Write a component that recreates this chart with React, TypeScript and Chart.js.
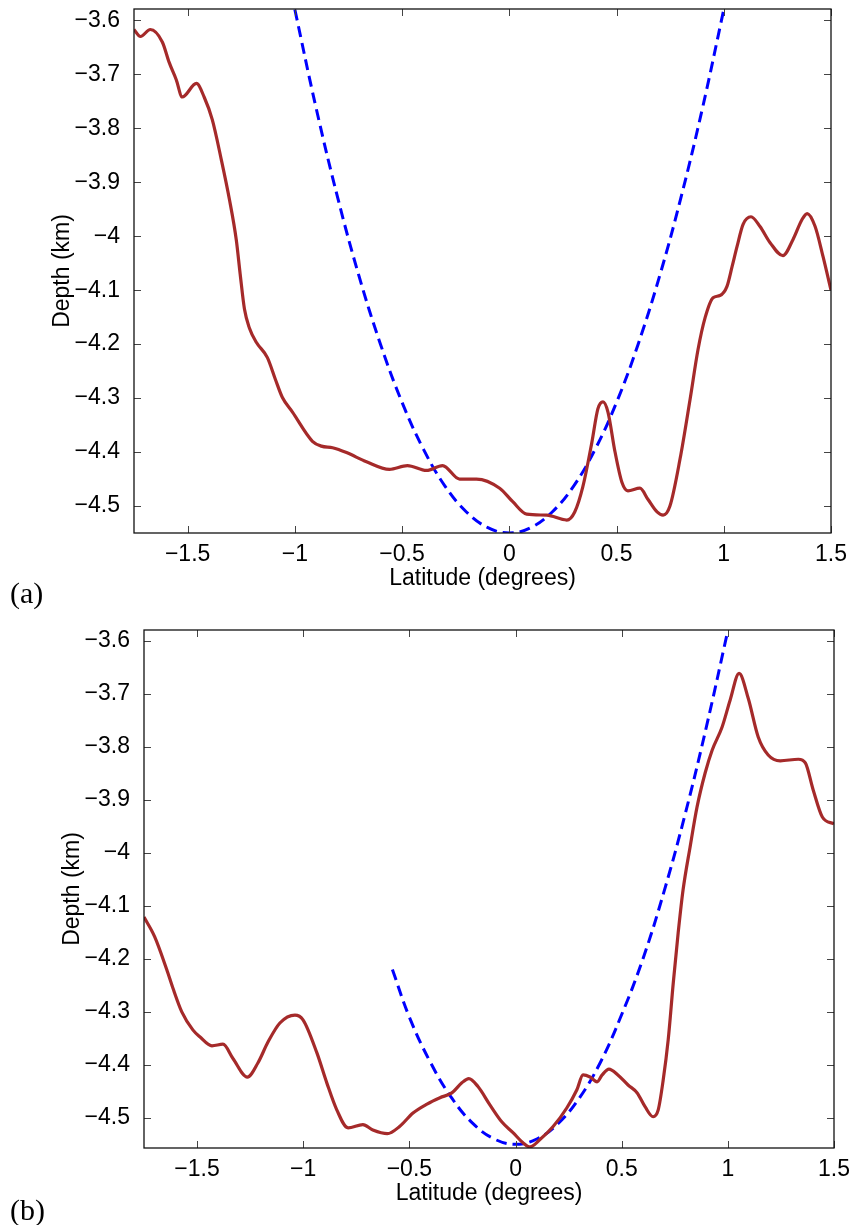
import React, { useEffect, useRef } from "react";
import { Chart, registerables } from "chart.js";

Chart.register(...registerables);

// ---------- Panel (a) ----------
const topLat = [
  -1.75, -1.72, -1.674, -1.618, -1.586, -1.553, -1.525, -1.459, -1.422, -1.385,
  -1.343, -1.305, -1.273, -1.255, -1.235, -1.212, -1.179, -1.128, -1.091, -1.058,
  -1.011, -0.918, -0.876, -0.824, -0.759, -0.666, -0.559, -0.475, -0.386, -0.311,
  -0.232, -0.153, -0.045, 0.016, 0.081, 0.175, 0.268, 0.305, 0.343, 0.385,
  0.413, 0.437, 0.46, 0.493, 0.525, 0.553, 0.609, 0.647, 0.689, 0.717,
  0.749, 0.796, 0.843, 0.88, 0.913, 0.95, 0.982, 1.015, 1.039, 1.062,
  1.09, 1.127, 1.169, 1.216, 1.276, 1.323, 1.365, 1.389, 1.426, 1.463, 1.5,
];
const topDepth = [
  -3.617, -3.63, -3.617, -3.64, -3.678, -3.71, -3.742, -3.717, -3.743, -3.784,
  -3.858, -3.932, -4.007, -4.07, -4.135, -4.17, -4.197, -4.225, -4.265, -4.299,
  -4.326, -4.38, -4.389, -4.392, -4.401, -4.418, -4.432, -4.425, -4.434, -4.425,
  -4.45, -4.45, -4.467, -4.492, -4.515, -4.517, -4.526, -4.511, -4.464, -4.382,
  -4.32, -4.307, -4.326, -4.4, -4.456, -4.472, -4.467, -4.488, -4.511, -4.517,
  -4.5, -4.413, -4.302, -4.21, -4.151, -4.114, -4.11, -4.093, -4.056, -4.019,
  -3.978, -3.964, -3.982, -4.012, -4.036, -4.006, -3.969, -3.958, -3.982, -4.038, -4.1,
];
const topFitLat = [
  -1.0, -0.9, -0.8, -0.7, -0.6, -0.5, -0.4, -0.3, -0.2, -0.1, 0,
  0.1, 0.2, 0.3, 0.4, 0.5, 0.6, 0.7, 0.8, 0.9, 1.0,
];
const topFitDepth = [
  -3.58, -3.764, -3.929, -4.075, -4.201, -4.308, -4.395, -4.463, -4.511, -4.54, -4.55,
  -4.54, -4.511, -4.463, -4.395, -4.308, -4.201, -4.075, -3.929, -3.764, -3.58,
];

// ---------- Panel (b) ----------
const botLat = [
  -1.75, -1.7, -1.643, -1.614, -1.572, -1.52, -1.487, -1.43, -1.378, -1.331,
  -1.263, -1.213, -1.166, -1.11, -1.039, -1.001, -0.936, -0.889, -0.842, -0.789,
  -0.719, -0.672, -0.604, -0.545, -0.483, -0.417, -0.356, -0.3, -0.253, -0.22,
  -0.177, -0.12, -0.064, -0.012, 0.035, 0.068, 0.115, 0.176, 0.242, 0.289,
  0.318, 0.351, 0.384, 0.408, 0.44, 0.482, 0.53, 0.573, 0.61, 0.648,
  0.672, 0.695, 0.719, 0.743, 0.766, 0.789, 0.822, 0.855, 0.893, 0.926,
  0.973, 1.011, 1.053, 1.096, 1.143, 1.19, 1.247, 1.332, 1.365, 1.402, 1.445, 1.5,
];
const botDepth = [
  -4.121, -4.158, -4.22, -4.255, -4.3, -4.334, -4.347, -4.364, -4.361, -4.388,
  -4.423, -4.396, -4.357, -4.321, -4.306, -4.315, -4.377, -4.434, -4.485, -4.519,
  -4.513, -4.523, -4.53, -4.516, -4.491, -4.474, -4.462, -4.453, -4.434, -4.426,
  -4.441, -4.476, -4.508, -4.528, -4.547, -4.555, -4.541, -4.517, -4.481, -4.447,
  -4.419, -4.423, -4.432, -4.419, -4.408, -4.419, -4.438, -4.453, -4.479, -4.498,
  -4.485, -4.43, -4.353, -4.245, -4.151, -4.07, -3.989, -3.913, -3.849, -3.806,
  -3.762, -3.711, -3.661, -3.708, -3.781, -3.815, -3.826, -3.823, -3.83, -3.881, -3.932, -3.945,
];
const botFitLat = [
  -0.58, -0.5, -0.4, -0.3, -0.2, -0.1, 0, 0.1, 0.2, 0.3, 0.4, 0.5, 0.6, 0.7, 0.8, 0.9, 1.0,
];
const botFitDepth = [
  -4.22, -4.31, -4.396, -4.463, -4.511, -4.54, -4.55, -4.54, -4.511, -4.463, -4.395,
  -4.305, -4.2, -4.072, -3.925, -3.76, -3.58,
];

const xTitle = "Latitude (degrees)";
const yTitle = "Depth (km)";
const FONT = "'Liberation Sans', Arial, Helvetica, sans-serif";
const FS = 23;

const fmt = (v: number) => {
  const r = Math.round(v * 100) / 100;
  return (r < 0 ? "\u2212" : "") + String(Math.abs(r));
};

const frameTicks = {
  id: "frameTicks",
  afterDatasetsDraw(chart: any) {
    const { ctx, chartArea: a, scales } = chart;
    const xs = scales.x;
    const ys = scales.y;
    const L = 7;
    ctx.save();
    ctx.strokeStyle = "#444";
    ctx.lineWidth = 1;
    ctx.beginPath();
    xs.ticks.forEach((t: any) => {
      const p = Math.round(xs.getPixelForValue(t.value)) + 0.5;
      ctx.moveTo(p, a.bottom);
      ctx.lineTo(p, a.bottom - L);
      ctx.moveTo(p, a.top);
      ctx.lineTo(p, a.top + L);
    });
    ys.ticks.forEach((t: any) => {
      const p = Math.round(ys.getPixelForValue(t.value)) + 0.5;
      ctx.moveTo(a.left, p);
      ctx.lineTo(a.left + L, p);
      ctx.moveTo(a.right, p);
      ctx.lineTo(a.right - L, p);
    });
    ctx.stroke();
    ctx.strokeStyle = "#111";
    ctx.lineWidth = 1.3;
    ctx.strokeRect(a.left, a.top, a.right - a.left, a.bottom - a.top);
    ctx.restore();
  },
};

type PanelProps = {
  lat: number[];
  depth: number[];
  fitLat: number[];
  fitDepth: number[];
  height: number;
  yMin: number;
  yMax: number;
  padTop: number;
  padRight: number;
  yWidth: number;
  xHeight: number;
  yTitlePad: number;
  xTitlePad: number;
};

function Panel(p: PanelProps) {
  const ref = useRef<HTMLCanvasElement>(null);
  useEffect(() => {
    if (!ref.current) return;
    const chart = new Chart(ref.current, {
      type: "line",
      data: {
        datasets: [
          {
            data: p.lat.map((x, i) => ({ x, y: p.depth[i] })),
            borderColor: "#a52a2a",
            borderWidth: 3.2,
            pointRadius: 0,
            cubicInterpolationMode: "monotone",
            fill: false,
          },
          {
            data: p.fitLat.map((x, i) => ({ x, y: p.fitDepth[i] })),
            borderColor: "#0000ff",
            borderWidth: 3,
            borderDash: [11, 6],
            pointRadius: 0,
            tension: 0.4,
            fill: false,
          },
        ],
      },
      options: {
        animation: false,
        responsive: false,
        maintainAspectRatio: false,
        events: [],
        layout: { padding: { left: 0, top: p.padTop, right: p.padRight, bottom: 0 } },
        plugins: { legend: { display: false }, tooltip: { enabled: false } },
        scales: {
          x: {
            type: "linear",
            min: -1.75,
            max: 1.5,
            grid: { display: false },
            border: { display: false },
            ticks: {
              stepSize: 0.5,
              includeBounds: false,
              autoSkip: false,
              maxRotation: 0,
              padding: 0,
              color: "#000",
              font: { family: FONT, size: FS },
              callback: (v: any) => fmt(Number(v)),
            },
            title: {
              display: true,
              text: xTitle,
              color: "#000",
              font: { family: FONT, size: FS },
              padding: { top: 0, bottom: p.xTitlePad },
            },
            afterFit: (s: any) => {
              s.height = p.xHeight;
              s.paddingLeft = 0;
              s.paddingRight = 0;
            },
          },
          y: {
            type: "linear",
            min: p.yMin,
            max: p.yMax,
            grid: { display: false },
            border: { display: false },
            ticks: {
              stepSize: 0.1,
              includeBounds: false,
              autoSkip: false,
              padding: 6,
              color: "#000",
              font: { family: FONT, size: FS },
              callback: (v: any) => fmt(Number(v)),
            },
            title: {
              display: true,
              text: yTitle,
              color: "#000",
              font: { family: FONT, size: FS },
              padding: { top: p.yTitlePad, bottom: 0 },
            },
            afterFit: (s: any) => {
              s.width = p.yWidth;
              s.paddingTop = 0;
              s.paddingBottom = 0;
            },
          },
        },
      } as any,
      plugins: [frameTicks],
    });
    return () => chart.destroy();
  }, []);
  return (
    <canvas
      ref={ref}
      width={854}
      height={p.height}
      style={{ display: "block", width: 854, height: p.height }}
    />
  );
}

const tagStyle: React.CSSProperties = {
  position: "absolute",
  left: 10,
  fontFamily: "'Liberation Serif', 'DejaVu Serif', serif",
  fontSize: 30,
  lineHeight: "34px",
  color: "#000",
};

export default function App() {
  return (
    <div style={{ position: "absolute", left: 0, top: 0, width: 854, height: 1225, background: "#fff" }}>
      <div style={{ position: "absolute", left: 0, top: 0 }}>
        <Panel
          lat={topLat}
          depth={topDepth}
          fitLat={topFitLat}
          fitDepth={topFitDepth}
          height={600}
          yMin={-4.55}
          yMax={-3.579}
          padTop={9}
          padRight={23}
          yWidth={134}
          xHeight={67}
          yTitlePad={49}
          xTitlePad={8}
        />
      </div>
      <div style={{ position: "absolute", left: 0, top: 600 }}>
        <Panel
          lat={botLat}
          depth={botDepth}
          fitLat={botFitLat}
          fitDepth={botFitDepth}
          height={625}
          yMin={-4.557}
          yMax={-3.579}
          padTop={30}
          padRight={20}
          yWidth={144}
          xHeight={77}
          yTitlePad={59}
          xTitlePad={18}
        />
      </div>
      <div style={{ ...tagStyle, top: 576 }}>(a)</div>
      <div style={{ ...tagStyle, top: 1193 }}>(b)</div>
    </div>
  );
}
